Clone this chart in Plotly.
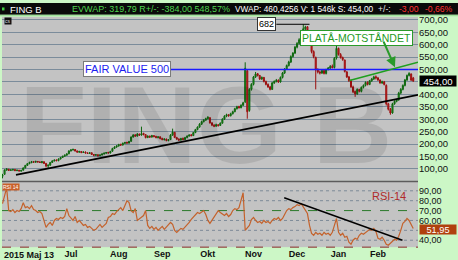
import plotly.graph_objects as go
import pandas as pd

W, H = 458, 260

# ---------------- data ----------------
HOLIDAYS = ["2015-05-14", "2015-06-19", "2015-12-24", "2015-12-25",
            "2015-12-31", "2016-01-01", "2016-01-06"]
dates = pd.bdate_range("2015-05-13", "2016-02-24", freq="C", holidays=HOLIDAYS)

OPEN = [70, 78, 95, 99, 94, 95, 98, 93, 95, 91,
        95, 104, 114, 121, 125, 129, 127, 130, 128, 125,
        129, 122, 112, 115, 126, 132, 136, 133, 140, 146,
        151, 155, 161, 172, 176, 178, 172, 167, 170, 166,
        168, 164, 162, 165, 158, 155, 157, 153, 156, 160,
        163, 166, 164, 171, 182, 188, 192, 199, 196, 203,
        207, 204, 211, 228, 237, 232, 240, 236, 243, 238,
        226, 232, 228, 234, 231, 226, 229, 223, 218, 220,
        214, 218, 236, 247, 226, 220, 216, 223, 218, 226,
        232, 237, 234, 246, 258, 268, 280, 290, 296, 302,
        306, 285, 276, 272, 278, 275, 284, 300, 312, 318,
        314, 322, 330, 342, 351, 346, 356, 370, 495, 335,
        420, 440, 470, 483, 476, 462, 468, 452, 440, 430,
        420, 446, 452, 457, 450, 468, 486, 502, 516, 530,
        552, 566, 590, 605, 620, 640, 664, 672, 654, 612,
        572, 548, 498, 490, 486, 496, 484, 500, 506, 513,
        508, 546, 585, 560, 548, 538, 490, 470, 455, 430,
        412, 402, 420, 412, 428, 436, 449, 440, 455, 462,
        471, 466, 458, 446, 450, 436, 362, 340, 325, 362,
        372, 378, 405, 420, 436, 458, 476, 482, 466]
HIGH = [80, 98, 103, 100, 99, 100, 99, 97, 96, 96,
        106, 116, 124, 129, 132, 131, 133, 131, 130, 131,
        130, 124, 118, 128, 135, 138, 138, 142, 148, 153,
        158, 163, 175, 180, 182, 180, 174, 173, 172, 170,
        170, 167, 168, 166, 160, 159, 159, 158, 162, 166,
        168, 169, 173, 185, 191, 195, 201, 201, 206, 209,
        209, 213, 231, 240, 239, 244, 242, 270, 245, 240,
        235, 234, 237, 236, 233, 231, 231, 225, 223, 222,
        220, 240, 262, 249, 229, 223, 225, 226, 229, 235,
        239, 240, 249, 261, 271, 284, 294, 300, 306, 312,
        308, 288, 280, 282, 280, 287, 304, 316, 322, 320,
        326, 334, 346, 354, 354, 360, 370, 529, 500, 425,
        445, 474, 490, 486, 478, 472, 470, 455, 444, 434,
        450, 456, 462, 460, 472, 490, 506, 520, 535, 557,
        570, 595, 610, 626, 642, 682, 676, 674, 656, 615,
        577, 552, 505, 496, 500, 498, 503, 510, 518, 520,
        550, 597, 588, 566, 552, 540, 494, 474, 460, 435,
        415, 424, 422, 432, 440, 452, 452, 458, 466, 475,
        476, 470, 460, 455, 454, 440, 366, 345, 366, 376,
        382, 410, 425, 440, 462, 480, 489, 484, 470]
LOW = [62, 76, 93, 92, 92, 94, 91, 91, 89, 89,
       93, 102, 112, 119, 123, 125, 125, 126, 124, 123,
       120, 106, 103, 113, 124, 130, 131, 131, 138, 144,
       149, 153, 159, 170, 174, 170, 165, 165, 163, 164,
       162, 160, 160, 156, 151, 153, 150, 151, 154, 158,
       161, 162, 162, 169, 180, 185, 190, 193, 194, 200,
       202, 202, 209, 226, 229, 230, 233, 234, 235, 223,
       224, 225, 226, 227, 223, 223, 219, 215, 214, 211,
       211, 216, 233, 224, 217, 213, 214, 215, 216, 223,
       230, 231, 233, 244, 256, 266, 277, 287, 294, 299,
       282, 272, 268, 270, 271, 273, 282, 297, 308, 310,
       311, 319, 328, 339, 343, 344, 353, 365, 302, 330,
       415, 436, 466, 472, 458, 458, 448, 436, 426, 416,
       418, 442, 448, 446, 447, 464, 482, 498, 512, 526,
       548, 562, 585, 600, 615, 635, 655, 650, 610, 565,
       545, 420, 484, 480, 482, 480, 480, 496, 502, 504,
       504, 540, 556, 544, 535, 488, 466, 450, 426, 405,
       390, 398, 408, 408, 424, 432, 436, 437, 450, 458,
       460, 454, 443, 442, 436, 355, 335, 318, 322, 358,
       368, 374, 400, 416, 432, 454, 472, 455, 450]
CLOSE = [75, 96, 100, 94, 96, 98, 93, 95, 92, 94,
         104, 114, 121, 126, 129, 127, 130, 128, 126, 129,
         122, 112, 115, 126, 132, 135, 133, 140, 146, 151,
         155, 160, 172, 176, 178, 172, 168, 170, 166, 168,
         164, 162, 165, 158, 155, 157, 153, 156, 160, 163,
         166, 164, 170, 182, 188, 192, 198, 196, 203, 206,
         204, 210, 228, 236, 232, 240, 236, 242, 238, 226,
         232, 228, 234, 230, 226, 229, 222, 218, 220, 214,
         217, 236, 248, 226, 220, 216, 222, 218, 226, 232,
         236, 234, 246, 258, 268, 280, 290, 296, 302, 308,
         285, 276, 272, 278, 274, 284, 300, 312, 318, 314,
         322, 330, 342, 350, 346, 356, 366, 505, 330, 420,
         440, 470, 482, 476, 462, 468, 452, 440, 430, 420,
         446, 452, 456, 450, 468, 486, 502, 516, 530, 552,
         566, 590, 605, 620, 636, 664, 670, 656, 616, 572,
         552, 498, 490, 486, 496, 484, 500, 506, 512, 508,
         545, 585, 560, 548, 540, 492, 470, 455, 430, 410,
         402, 420, 412, 428, 436, 448, 440, 455, 462, 470,
         466, 458, 446, 450, 440, 362, 340, 325, 362, 372,
         378, 405, 420, 436, 458, 476, 484, 457, 454]
RSI = [77, 85, 93, 70, 69, 71, 68, 70, 69, 72,
       78, 73, 74, 72, 75, 71, 70, 68, 69, 67,
       60, 53, 56, 58, 55, 60, 62, 61, 63, 62,
       64, 72, 65, 62, 60, 64, 58, 60, 57, 55,
       56, 53, 54, 52, 50, 51, 54, 56, 53, 55,
       57, 63, 64, 67, 66, 69, 71, 73, 70, 76,
       80, 78, 70, 68, 72, 60, 62, 63, 65, 70,
       55, 52, 54, 51, 53, 50, 52, 54, 51, 53,
       55, 58, 56, 50, 48, 50, 52, 51, 53, 55,
       58, 61, 63, 65, 68, 67, 69, 70, 66, 60,
       57, 60, 63, 66, 70, 68, 66, 65, 67, 64,
       66, 70, 72, 71, 73, 80, 88, 50, 53, 55,
       61, 63, 60, 58, 59, 57, 60, 58, 59, 57,
       60, 62, 61, 63, 60, 62, 66, 70, 72, 71,
       73, 74, 76, 75, 77, 74, 70, 67, 55, 47,
       45, 48, 46, 47, 45, 48, 46, 47, 45, 48,
       55, 62, 48, 45, 47, 43, 44, 38, 36, 40,
       42, 41, 45, 47, 46, 48, 49, 51, 50, 52,
       49, 42, 41, 43, 40, 36, 35, 37, 40, 41,
       40, 44, 50, 57, 59, 62, 60, 56, 51.95]

PRICE_TICKS = list(range(100, 701, 50))
RSI_TICKS = [40, 60, 70, 80, 90]
RSI_GRID = [40, 50, 60, 80, 90]
RSI_LEVEL = 70
FAIR_VALUE = 500
MONTHS = {7: "Jul", 8: "Aug", 9: "Sep", 10: "Okt", 11: "Nov", 12: "Dec", 1: "Jan", 2: "Feb"}
FIRST_LABEL = "2015 Maj 13"

# analyst drawings (index, value)
SUPPORT = [(6.5, 76), (200.3, 398)]
RESIST = [(167.3, 456), (200.3, 529)]
RSI_TREND = [(135.8, 83), (192.8, 40)]
FAIR_START = 39.0

HEADER_NAME = "FING B"
HEADER_EVWAP = "EVWAP: 319,79 R+/-: -384,00 548,57%"
HEADER_VWAP = "VWAP: 460,4256 V: 1 546k S: 454,00"
HEADER_CHG = ["-3,00", "-0,66%"]

# ---------------- figure ----------------
idx = list(range(len(dates)))
n = len(idx)
XR = [-0.24, 200.3]
YR = [51.6, 711.9]
RR = [33, 99]

def px(x):
    return x / W

def py(y):
    return 1 - y / H

def fmt(v):
    return f"{v:.2f}".replace(".", ",")

fig = go.Figure()

# watermark
fig.add_trace(go.Scatter(x=[98], y=[234], mode="text", text=["<b>FING B</b>"],
                         textfont=dict(size=110, color="rgba(0,0,0,0.095)",
                                       family="Liberation Sans, Arial"),
                         hoverinfo="skip", showlegend=False, xaxis="x", yaxis="y"))

fig.add_trace(go.Candlestick(x=idx, open=OPEN, high=HIGH, low=LOW, close=CLOSE,
                             increasing=dict(line=dict(color="#0e650e", width=1), fillcolor="#22b022"),
                             decreasing=dict(line=dict(color="#9a0e0e", width=1), fillcolor="#e83030"),
                             whiskerwidth=0, xaxis="x", yaxis="y", showlegend=False,
                             hoverinfo="skip"))

fig.add_trace(go.Scatter(x=idx, y=RSI, mode="lines", line=dict(color="#c4622c", width=1.2),
                         xaxis="x2", yaxis="y2", showlegend=False, hoverinfo="skip"))

tick_idx, tick_txt = [], []
for i in range(1, n):
    if dates[i].month != dates[i - 1].month and dates[i].month in MONTHS:
        tick_idx.append(i)
        tick_txt.append(f"<b>{MONTHS[dates[i].month]}</b>")

shapes = []
# header bar
shapes.append(dict(type="rect", xref="paper", yref="paper", x0=0, x1=1, y0=py(12), y1=1,
                   fillcolor="#0a0a0a", line=dict(width=0), layer="above"))
shapes.append(dict(type="rect", xref="paper", yref="paper", x0=0, x1=1, y0=py(13.5), y1=py(12),
                   fillcolor="#9ee09a", line=dict(width=0), layer="above"))
shapes.append(dict(type="rect", xref="paper", yref="paper", x0=px(2), x1=px(4.5), y0=py(7.5), y1=py(4.5),
                   fillcolor="#3fcf3f", line=dict(width=0), layer="above"))
# panel separator and RSI bottom
shapes.append(dict(type="line", xref="paper", yref="paper", x0=px(2), x1=px(418), y0=py(180.5), y1=py(180.5),
                   line=dict(color="#5c5c5c", width=1.5)))
shapes.append(dict(type="line", xref="paper", yref="paper", x0=px(2), x1=px(418), y0=py(247), y1=py(247),
                   line=dict(color="#8a2a2a", width=1, dash="dash")))
# RSI grid
for v in RSI_GRID:
    shapes.append(dict(type="line", xref="x2", yref="y2", x0=XR[0], x1=XR[1], y0=v, y1=v,
                       line=dict(color="#7d8a98", width=1, dash="dot"), layer="below"))
shapes.append(dict(type="line", xref="x2", yref="y2", x0=XR[0], x1=XR[1], y0=RSI_LEVEL, y1=RSI_LEVEL,
                   line=dict(color="#2b7a2b", width=1, dash="dash"), layer="below"))
# fair value
shapes.append(dict(type="line", xref="x", yref="y", x0=FAIR_START, x1=XR[1], y0=FAIR_VALUE, y1=FAIR_VALUE,
                   line=dict(color="#1a1aff", width=1.3)))
# support, resistance, rsi trend
shapes.append(dict(type="line", xref="x", yref="y", x0=SUPPORT[0][0], y0=SUPPORT[0][1],
                   x1=SUPPORT[1][0], y1=SUPPORT[1][1], line=dict(color="#000000", width=1.6)))
shapes.append(dict(type="line", xref="x", yref="y", x0=RESIST[0][0], y0=RESIST[0][1],
                   x1=RESIST[1][0], y1=RESIST[1][1], line=dict(color="#1fa01f", width=1.6)))
shapes.append(dict(type="line", xref="x2", yref="y2", x0=RSI_TREND[0][0], y0=RSI_TREND[0][1],
                   x1=RSI_TREND[1][0], y1=RSI_TREND[1][1], line=dict(color="#000000", width=1.4)))
# peak marker
peak_i = max(range(n), key=lambda k: HIGH[k])
peak_v = HIGH[peak_i]
shapes.append(dict(type="line", xref="x", yref="y", x0=peak_i - 13, x1=peak_i + 3, y0=peak_v, y1=peak_v,
                   line=dict(color="#000000", width=1)))

FONT = "Liberation Sans, Arial, sans-serif"
ann = []

def label(x, y, text, size, color, xanchor="left", xref="paper", yref="paper", **kw):
    d = dict(xref=xref, yref=yref, x=x, y=y, xanchor=xanchor, yanchor="middle", text=text,
             showarrow=False, font=dict(family=FONT, size=size, color=color))
    d.update(kw)
    ann.append(d)

label(px(8), py(6.5), HEADER_NAME, 9.5, "#ffffff")
label(px(70), py(6.5), HEADER_EVWAP, 9, "#4fd44f")
label(px(233), py(6.5), HEADER_VWAP, 8.3, "#ffffff")
label(px(376), py(6.5), "+/-:", 8.6, "#e8e8e8")
label(px(397), py(6.5), HEADER_CHG[0], 8.6, "#ff3030")
label(px(423), py(6.5), HEADER_CHG[1], 8.6, "#ff3030")
# badges
label(px(7.5), py(18.5), "cs", 5, "#dddddd", xanchor="center", bgcolor="#111111", borderpad=0)
label(px(11), py(186), "RSI 14", 5, "#ffffff", xanchor="center", bgcolor="#c8602a", borderpad=0)
# fair value label
label(px(127), FAIR_VALUE, "FAIR VALUE 500", 11, "#1c1cf0", xanchor="center", yref="y",
      bgcolor="#ffffff", bordercolor="#7a7a7a", borderwidth=1, borderpad=1)
# resistance label + arrow
label(px(356), py(35), "PLATÅ-MOTSTÅNDET", 10.5, "#1d9a1d", xanchor="center",
      bgcolor="#ffffff", bordercolor="#2a9a2a", borderwidth=1, borderpad=1)
ann.append(dict(xref="x", yref="y", x=189.2, y=509, ax=-12, ay=-27, text="", showarrow=True,
                arrowhead=2, arrowsize=1, arrowwidth=2, arrowcolor="#2a9a2a"))
# peak label
label(peak_i - 13, peak_v, str(peak_v), 9, "#000000", xanchor="right", xref="x", yref="y",
      bgcolor="#ffffff", bordercolor="#333333", borderwidth=1, borderpad=1)
# last-value tags
label(px(419), CLOSE[-1], fmt(CLOSE[-1]), 9.5, "#ffffff", yref="y", bgcolor="#000000",
      borderpad=0, width=36, height=10)
label(px(419), RSI[-1] - 0.6, fmt(RSI[-1]), 9.2, "#ffffff", yref="y2", bgcolor="#b0400e",
      borderpad=0, width=36, height=9)
label(px(389), py(195), "RSI-14", 11, "#b02a2a", xanchor="center")
label(px(2), py(254.5), "<b>" + FIRST_LABEL + "</b>", 9, "#111111")

price_text = ["" if v == 450 else fmt(v) for v in PRICE_TICKS]

fig.update_layout(
    width=W, height=H, margin=dict(l=0, r=0, t=0, b=0), autosize=False,
    paper_bgcolor="#ccf7c6", plot_bgcolor="#c3c3c3", showlegend=False,
    font=dict(family=FONT, size=9, color="#111111"),
    xaxis=dict(domain=[px(2), px(418)], range=XR, anchor="y", showgrid=False, zeroline=False,
               showticklabels=False, rangeslider=dict(visible=False), fixedrange=True),
    yaxis=dict(domain=[py(180), py(14)], range=YR, side="right", anchor="x",
               tickvals=PRICE_TICKS, ticktext=price_text,
               showgrid=True, gridcolor="#7b8c9b", gridwidth=1, zeroline=False, ticks="",
               tickfont=dict(family=FONT, size=9.5, color="#111111"), fixedrange=True),
    xaxis2=dict(domain=[px(2), px(418)], range=XR, anchor="y2", matches="x", showgrid=False,
                zeroline=False, tickvals=tick_idx, ticktext=tick_txt, ticks="",
                tickfont=dict(family=FONT, size=9, color="#111111"), fixedrange=True),
    yaxis2=dict(domain=[py(247), py(181)], range=RR, side="right", anchor="x2",
                tickvals=RSI_TICKS, ticktext=[fmt(v) for v in RSI_TICKS], showgrid=False,
                zeroline=False, ticks="", tickfont=dict(family=FONT, size=9, color="#111111"),
                fixedrange=True),
    shapes=shapes, annotations=ann,
)

fig.write_html("out.html", include_plotlyjs=True, config={"displayModeBar": False})
